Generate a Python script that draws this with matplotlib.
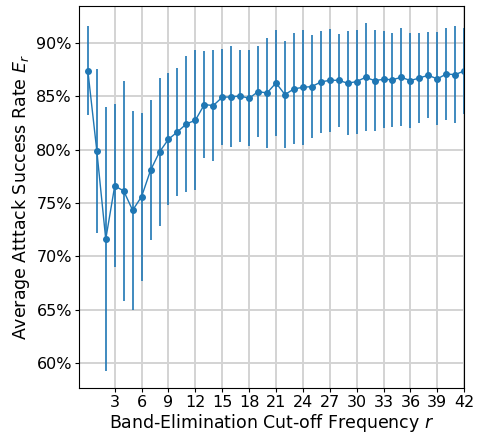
import numpy as np
import matplotlib.pyplot as plt
from matplotlib.ticker import PercentFormatter

# cut-off frequency r and attack success rate (mean, std) in percent
r = np.arange(0, 43)
mean_rate = [87.41, 79.91, 71.59, 76.59, 76.13, 74.31, 75.59, 78.06, 79.78, 80.97,
             81.66, 82.41, 82.75, 84.22, 84.13, 84.91, 84.94, 85.03, 84.81, 85.44,
             85.31, 86.25, 85.16, 85.69, 85.84, 85.91, 86.34, 86.50, 86.50, 86.22,
             86.38, 86.78, 86.47, 86.59, 86.56, 86.78, 86.47, 86.72, 86.97, 86.63,
             87.09, 87.03, 87.38]
std_rate = [4.17, 7.69, 12.36, 7.64, 10.31, 9.33, 7.88, 6.56, 6.91, 6.19,
            6.03, 6.39, 6.55, 4.98, 5.23, 4.48, 4.73, 4.30, 4.50, 4.28,
            5.16, 4.97, 5.00, 5.20, 5.40, 4.81, 4.77, 4.83, 4.38, 4.88,
            4.88, 5.05, 4.72, 4.52, 4.41, 4.61, 4.47, 4.25, 4.03, 4.36,
            4.27, 4.53, 4.00]
xticks = np.arange(3, 43, 3)

fig = plt.figure(figsize=(4.78, 4.34), dpi=100)
ax = fig.add_axes([0.165, 0.105, 0.806, 0.881])
ax.errorbar(r, mean_rate, yerr=std_rate, color='C0', marker='o', markersize=4,
            linewidth=1, elinewidth=1.2)
ax.set_xlim(-1, 42)
ax.set_xticks(xticks)
ax.yaxis.set_major_formatter(PercentFormatter(100, decimals=0))
ax.grid(True, color='#d3d3d3', linewidth=1.4)
ax.set_axisbelow(True)
ax.tick_params(labelsize=11.5, length=3, pad=2)
ax.set_xlabel('Band-Elimination Cut-off Frequency $r$', fontsize=12.5, labelpad=1)
ax.set_ylabel('Average Atttack Success Rate $E_r$', fontsize=12.5, labelpad=3)
plt.savefig('out.png')
